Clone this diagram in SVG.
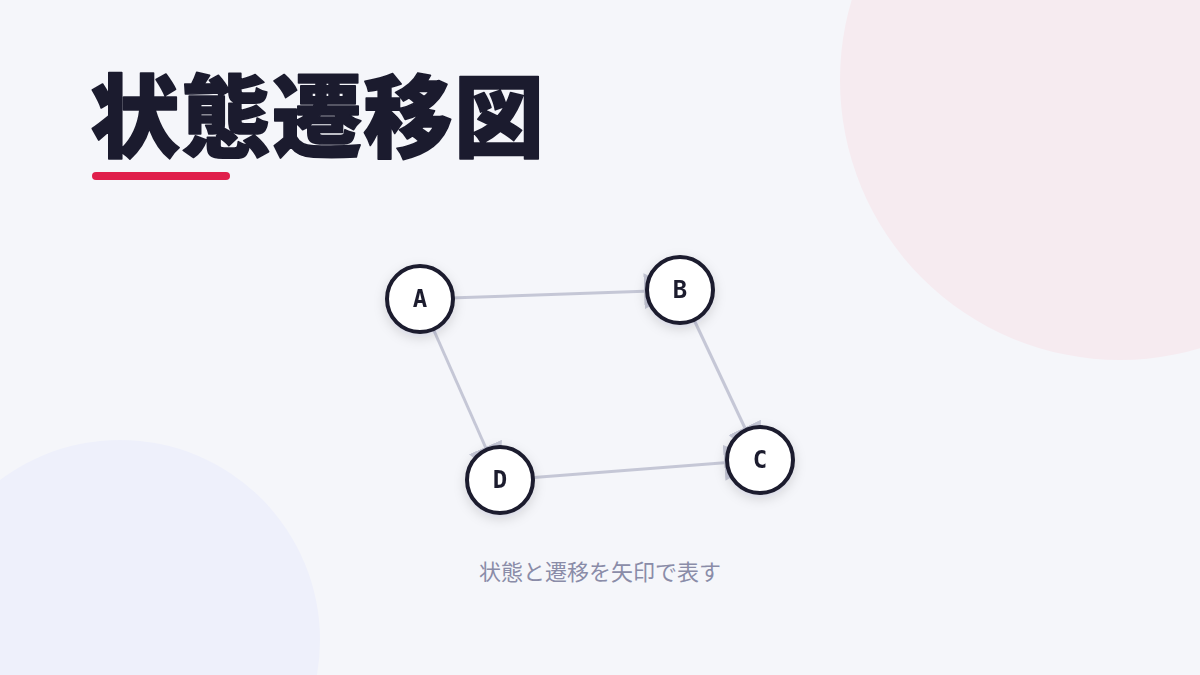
<svg xmlns="http://www.w3.org/2000/svg" width="1200" height="675" viewBox="0 0 1200 675">
  <style>
    .title { font-family: "Noto Sans CJK JP", "Noto Sans", sans-serif; font-weight: 900; font-size: 90px; fill: #1b1b2e; stroke: #1b1b2e; stroke-width: 1.6; stroke-linejoin: round; paint-order: stroke; }
    .sub { font-family: "Noto Sans CJK JP", "Noto Sans", sans-serif; font-size: 22px; fill: #8a8ca8; }
    .node circle { fill: #ffffff; stroke: #1b1b2e; stroke-width: 4; }
    .node text { font-family: "DejaVu Sans Mono", "Liberation Mono", monospace; font-weight: bold; font-size: 24px; fill: #1b1b2e; text-anchor: middle; dominant-baseline: central; }
    .edge { stroke: #c5c7d6; stroke-width: 3; fill: none; }
  </style>
  <defs>
    <marker id="arrow" viewBox="0 0 10 10" refX="10" refY="5" markerWidth="12" markerHeight="12" orient="auto">
      <path d="M0,0 L10,5 L0,10 z" fill="#c5c7d6"/>
    </marker>
    <filter id="shadow" x="-50%" y="-50%" width="200%" height="200%">
      <feDropShadow dx="0" dy="4" stdDeviation="6" flood-color="#1b1b2e" flood-opacity="0.14"/>
    </filter>
  </defs>

  <rect width="1200" height="675" fill="#f5f6fa"/>
  <circle cx="1120" cy="80" r="280" fill="#f6ebf0"/>
  <circle cx="120" cy="640" r="200" fill="#eef0fb"/>

  <g id="title">
    <text class="title" x="90" y="150" letter-spacing="1">状態遷移図</text>
    <rect x="92" y="172" width="138" height="8" rx="4" fill="#e01f4b"/>
  </g>

  <g id="connectors">
    <line class="edge" x1="420" y1="299" x2="680" y2="290" marker-end="url(#arrow)"/>
    <line class="edge" x1="680" y1="290" x2="760" y2="460" marker-end="url(#arrow)"/>
    <line class="edge" x1="420" y1="299" x2="500" y2="480" marker-end="url(#arrow)"/>
    <line class="edge" x1="500" y1="480" x2="760" y2="460" marker-end="url(#arrow)"/>
  </g>

  <g id="node-A" class="node" filter="url(#shadow)">
    <circle cx="420" cy="299" r="33"/>
    <text x="420" y="299">A</text>
  </g>
  <g id="node-B" class="node" filter="url(#shadow)">
    <circle cx="680" cy="290" r="33"/>
    <text x="680" y="290">B</text>
  </g>
  <g id="node-C" class="node" filter="url(#shadow)">
    <circle cx="760" cy="460" r="33"/>
    <text x="760" y="460">C</text>
  </g>
  <g id="node-D" class="node" filter="url(#shadow)">
    <circle cx="500" cy="480" r="33"/>
    <text x="500" y="480">D</text>
  </g>

  <text class="sub" x="600" y="580" text-anchor="middle">状態と遷移を矢印で表す</text>
</svg>
